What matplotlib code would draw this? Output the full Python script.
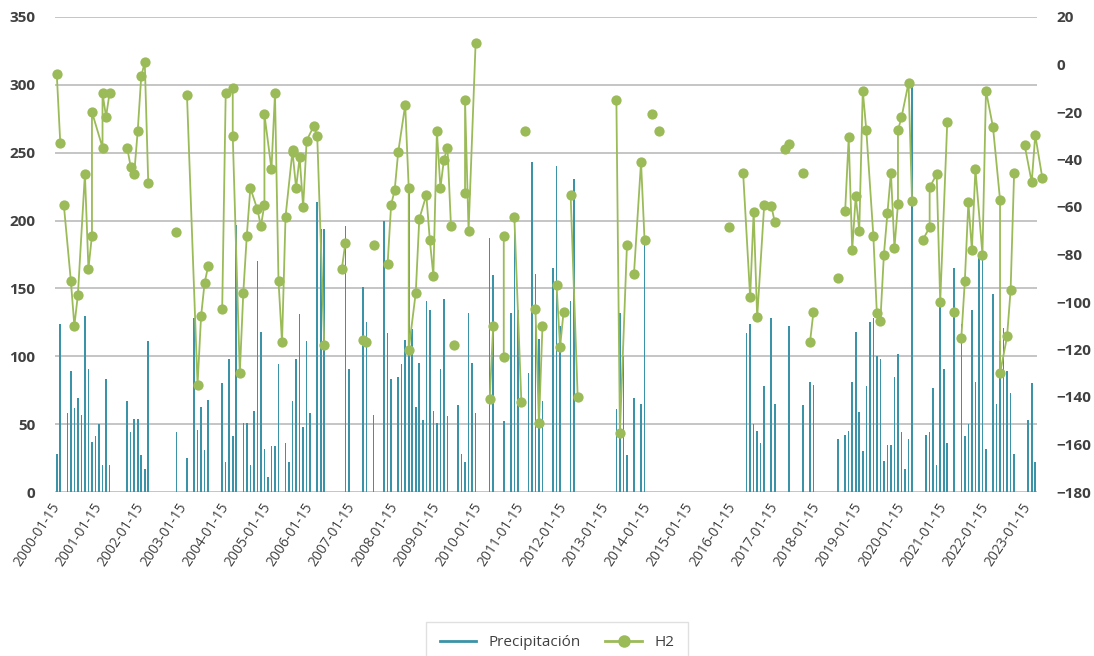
import numpy as np
import matplotlib
matplotlib.use("Agg")
import matplotlib.pyplot as plt
from matplotlib.lines import Line2D

plt.rcParams['font.family'] = ['Open Sans', 'DejaVu Sans']

# Monthly precipitation (mm)
precip_months = [
    "2000-01", "2000-02", "2000-04", "2000-05", "2000-06", "2000-07", "2000-08", "2000-09",
    "2000-10", "2000-11", "2000-12", "2001-01", "2001-02", "2001-03", "2001-04",
    "2001-09", "2001-10", "2001-11", "2001-12", "2002-01", "2002-02", "2002-03",
    "2002-11", "2003-02", "2003-04", "2003-05", "2003-06", "2003-07", "2003-08",
    "2003-12", "2004-01", "2004-02", "2004-03", "2004-04", "2004-06", "2004-07", "2004-08",
    "2004-09", "2004-10", "2004-11", "2004-12", "2005-01", "2005-02", "2005-03", "2005-04",
    "2005-06", "2005-07", "2005-08", "2005-09", "2005-10", "2005-11", "2005-12", "2006-01",
    "2006-03", "2006-04", "2006-05", "2006-11", "2006-12", "2007-04", "2007-05", "2007-07",
    "2007-10", "2007-11", "2007-12", "2008-02", "2008-03", "2008-04", "2008-05", "2008-06",
    "2008-07", "2008-08", "2008-09", "2008-10", "2008-11", "2008-12", "2009-01", "2009-02",
    "2009-03", "2009-04", "2009-07", "2009-08", "2009-09", "2009-10", "2009-11", "2009-12",
    "2010-04", "2010-05", "2010-08", "2010-10", "2010-11", "2010-12", "2011-03", "2011-04",
    "2011-05", "2011-06", "2011-07", "2011-10", "2011-11", "2011-12", "2012-03", "2012-04",
    "2013-04", "2013-05", "2013-06", "2013-07", "2013-09", "2013-11", "2013-12",
    "2016-05", "2016-06", "2016-07", "2016-08", "2016-09", "2016-10", "2016-12", "2017-01",
    "2017-05", "2017-09", "2017-11", "2017-12",
    "2018-07", "2018-09", "2018-10", "2018-11", "2018-12", "2019-01", "2019-02", "2019-03",
    "2019-04", "2019-05", "2019-06", "2019-07", "2019-08", "2019-09", "2019-10", "2019-11",
    "2019-12", "2020-01", "2020-02", "2020-03", "2020-04",
    "2020-08", "2020-09", "2020-10", "2020-11", "2020-12", "2021-01", "2021-02", "2021-04",
    "2021-06", "2021-07", "2021-08", "2021-09", "2021-10", "2021-11", "2021-12", "2022-01",
    "2022-03", "2022-04", "2022-05", "2022-06", "2022-07", "2022-08", "2022-09",
    "2023-01", "2023-02", "2023-03",
]
precip_values = [
    28, 124, 58, 89, 62, 69, 57, 130,
    91, 37, 41, 50, 20, 83, 20,
    67, 44, 54, 54, 27, 17, 111,
    44, 25, 128, 46, 63, 31, 68,
    80, 22, 98, 41, 197, 51, 51, 20,
    60, 170, 118, 32, 11, 34, 34, 94,
    36, 22, 67, 98, 131, 48, 111, 58,
    214, 194, 194, 196, 91, 151, 125, 57,
    200, 117, 83, 85, 94, 112, 224, 120,
    63, 95, 53, 141, 134, 60, 51, 91,
    142, 56, 64, 28, 22, 132, 95, 58,
    187, 160, 52, 132, 196, 134, 88, 243,
    161, 113, 67, 165, 240, 122, 141, 231,
    61, 132, 100, 27, 69, 65, 183,
    117, 124, 50, 45, 36, 78, 128, 65,
    122, 64, 81, 79,
    39, 42, 45, 81, 118, 59, 30, 78,
    125, 128, 100, 98, 23, 35, 35, 85,
    102, 44, 17, 39, 303,
    42, 44, 77, 20, 140, 91, 36, 165,
    124, 41, 50, 134, 81, 173, 173, 32,
    146, 65, 111, 121, 89, 73, 28,
    53, 80, 22,
]

# H2 readings; several readings may share a month, None ends a run of the line
h2_months = [
    "2000-01", "2000-02", "2000-02",
    "2000-03", "2000-05", "2000-06", "2000-07", "2000-09", "2000-10", "2000-11", "2000-11",
    "2001-02", "2001-02", "2001-03", "2001-04", "2001-04",
    "2001-09", "2001-10", "2001-11", "2001-12", "2002-01", "2002-02", "2002-03", "2002-03",
    "2002-11", "2002-11",
    "2003-02", "2003-05", "2003-06", "2003-07", "2003-08", "2003-08",
    "2003-12", "2004-01", "2004-03", "2004-03", "2004-05", "2004-06", "2004-07", "2004-08",
    "2004-10", "2004-11", "2004-12", "2004-12", "2005-02", "2005-03", "2005-04", "2005-05",
    "2005-06", "2005-08", "2005-08", "2005-09", "2005-10", "2005-11", "2005-12", "2006-02",
    "2006-03", "2006-05", "2006-05",
    "2006-10", "2006-11", "2006-11",
    "2007-04", "2007-05", "2007-05",
    "2007-07", "2007-07",
    "2007-11", "2007-12", "2008-01", "2008-02", "2008-04", "2008-05", "2008-05", "2008-07",
    "2008-08", "2008-10", "2008-11", "2008-12", "2009-01", "2009-02", "2009-03", "2009-04",
    "2009-05", "2009-05",
    "2009-06", "2009-06",
    "2009-09", "2009-09", "2009-10", "2009-12", "2009-12",
    "2010-04", "2010-05", "2010-05",
    "2010-08", "2010-08", "2010-08",
    "2010-11", "2011-01", "2011-01",
    "2011-02", "2011-02",
    "2011-05", "2011-06", "2011-07", "2011-07",
    "2011-11", "2011-12", "2012-01", "2012-01",
    "2012-03", "2012-05", "2012-05",
    "2013-04", "2013-05", "2013-07", "2013-07",
    "2013-09", "2013-11", "2013-12", "2013-12",
    "2014-02", "2014-02",
    "2014-04", "2014-04",
    "2015-12", "2015-12",
    "2016-04", "2016-06", "2016-07", "2016-08", "2016-10", "2016-12", "2017-01", "2017-01",
    "2017-04", "2017-05", "2017-05",
    "2017-09", "2017-09",
    "2017-11", "2017-12", "2017-12",
    "2018-07", "2018-07",
    "2018-09", "2018-10", "2018-11", "2018-12", "2019-01", "2019-02", "2019-03", "2019-05",
    "2019-06", "2019-07", "2019-08", "2019-09", "2019-10", "2019-11", "2019-12", "2019-12",
    "2020-01", "2020-03", "2020-04", "2020-04",
    "2020-07", "2020-09", "2020-09", "2020-11", "2020-12", "2021-02", "2021-02",
    "2021-04", "2021-04",
    "2021-06", "2021-07", "2021-08", "2021-09", "2021-10", "2021-12", "2022-01", "2022-03",
    "2022-05", "2022-05", "2022-07", "2022-08", "2022-09", "2022-09",
    "2022-12", "2023-02", "2023-03", "2023-05",
]
h2_values = [
    -4, -33, None,
    -59, -91, -110, -97, -46, -86, -72, -20,
    -35, -12, -22, -12, None,
    -35, -43, -46, -28, -5, 1, -50, None,
    -70.5, None,
    -13, -135, -106, -92, -85, None,
    -103, -12, -10, -30, -130, -96, -72, -52,
    -61, -68, -59, -21, -44, -12, -91, -117,
    -64, -36, -37, -52, -39, -60, -32, -26,
    -30, -118, None,
    -86, -75, None,
    -116, -117, None,
    -76, None,
    -84, -59, -53, -37, -17, -52, -120, -96,
    -65, -55, -74, -89, -28, -52, -40, -35,
    -68, None,
    -118, None,
    -54, -15, -70, 9, None,
    -141, -110, None,
    -72, -123, None,
    -64, -142, None,
    -28, None,
    -103, -151, -110, None,
    -93, -119, -104, None,
    -55, -140, None,
    -15, -155, -76, None,
    -88, -41, -74, None,
    -21, None,
    -28, None,
    -68.5, None,
    -45.5, -98, -62, -106.5, -59, -59.4, -66.4, None,
    -35.6, -33.5, None,
    -45.5, None,
    -117, -104, None,
    -90, None,
    -61.5, -30.7, -78, -55.4, -70, -11, -27.6, -72,
    -104.7, -108, -80, -62.6, -45.5, -77.3, -58.7, -27.6,
    -22.3, -7.7, -57.5, None,
    -74, -68.5, -51.7, -46.2, -100, -24.4, None,
    -104.4, None,
    -115, -91, -58, -78, -44, -80, -11, -26.4,
    -57, -130, -114.5, -95, -45.5, None,
    -34, -49.6, -29.7, -47.7,
]

first_month = "2000-01"
last_month = "2023-03"
tick_years = list(range(2000, 2024))
tick_labels = [f"{y}-01-15" for y in tick_years]


def month_index(s):
    y, m = s.split("-")
    y0, m0 = first_month.split("-")
    return (int(y) - int(y0)) * 12 + int(m) - int(m0)


bar_color = "#3A93A6"
line_color = "#9BBB59"
text_color = "#404040"
grid_color = "#C0C0C0"

W, H = 1094, 656
fig = plt.figure(figsize=(W / 100, H / 100), dpi=100)
ax = fig.add_axes([55 / W, 1 - 492 / H, (1037 - 55) / W, (492 - 17) / H])
ax2 = ax.twinx()

px = np.array([month_index(s) for s in precip_months])
ax.bar(px, precip_values, width=0.45, color=bar_color, zorder=2, linewidth=0)

hx = np.array([month_index(s) for s in h2_months], dtype=float)
hv = np.array([np.nan if v is None else v for v in h2_values], dtype=float)
ax2.plot(hx, hv, color=line_color, lw=1.3, marker="o", ms=7.4,
         markeredgewidth=0, clip_on=False, zorder=3)

ax.set_xlim(-0.5, month_index(last_month) + 0.5)
ax.set_ylim(0, 350)
ax2.set_ylim(-180, 20)
ax.set_yticks(range(0, 351, 50))
ax2.set_yticks(range(-180, 21, 20))

ax.yaxis.grid(True, color=grid_color, lw=1.3)
ax.set_axisbelow(True)
for a in (ax, ax2):
    for sp in a.spines.values():
        sp.set_visible(False)

ax.set_xticks([month_index(f"{y}-01") for y in tick_years])
ax.set_xticklabels(tick_labels, rotation=57, ha="right", va="center",
                   rotation_mode="anchor", fontsize=10, color=text_color)
ax.tick_params(axis="x", length=0, pad=9)
ax.tick_params(axis="y", length=0, pad=14, labelsize=11, labelcolor=text_color)
ax2.tick_params(axis="y", length=0, pad=14, labelsize=11, labelcolor=text_color)
for lab in ax.get_yticklabels() + ax2.get_yticklabels():
    lab.set_fontweight("bold")

handles = [
    Line2D([], [], color=bar_color, lw=2),
    Line2D([], [], color=line_color, lw=2, marker="o", ms=9, markeredgewidth=0),
]
leg = fig.legend(handles, ["Precipitación", "H2"], loc="upper center",
                 bbox_to_anchor=(557 / W, 1 - 614 / H), ncol=2, frameon=True,
                 fontsize=11, handlelength=2.4, columnspacing=1.6,
                 borderpad=0.9, fancybox=False, labelcolor=text_color)
leg.get_frame().set_edgecolor("#D9D9D9")
leg.get_frame().set_linewidth(1.0)

fig.savefig("out.png", dpi=100)
